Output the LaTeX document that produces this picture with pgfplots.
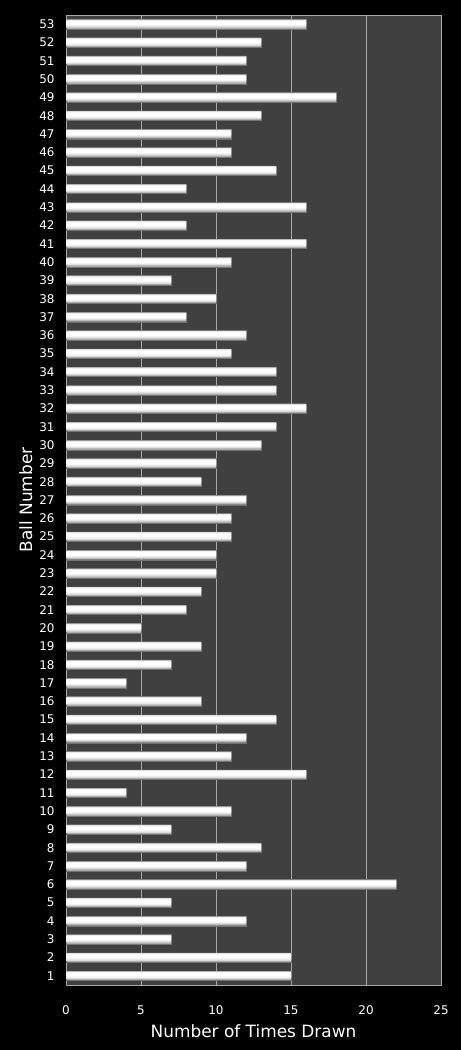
\documentclass[border=0pt]{standalone}
\usepackage{pgfplots}
\usepackage{pgfplotstable}
\pgfplotsset{compat=1.18}
\usepackage{fontspec}
\setmainfont{DejaVu Sans}
\definecolor{plotbg}{HTML}{404040}
\definecolor{gridc}{HTML}{A8A8A8}

\pgfplotstableread{
ball times
1 15
2 15
3 7
4 12
5 7
6 22
7 12
8 13
9 7
10 11
11 4
12 16
13 11
14 12
15 14
16 9
17 4
18 7
19 9
20 5
21 8
22 9
23 10
24 10
25 11
26 11
27 12
28 9
29 10
30 13
31 14
32 16
33 14
34 14
35 11
36 12
37 8
38 10
39 7
40 11
41 16
42 8
43 16
44 8
45 14
46 11
47 11
48 13
49 18
50 12
51 12
52 13
53 16
}\drawdata

\begin{document}
\begin{tikzpicture}
\path[use as bounding box, fill=black] (0,0) rectangle (461bp,1050bp);
\begin{axis}[
    at={(66bp,65bp)}, anchor=south west,
    scale only axis,
    width=375bp, height=970bp,
    xbar,
    xmin=0, xmax=25,
    ymin=0.5, ymax=53.5,
    xtick={0,5,10,15,20,25},
    ytick={1,...,53},
    axis background/.style={fill=plotbg},
    axis line style={gridc},
    xmajorgrids, grid style={gridc, line width=0.6bp},
    major tick length=0pt,
    tick label style={white, font=\fontsize{12}{14}\selectfont},
    xticklabel style={yshift=-17bp},
    yticklabel style={xshift=-8bp},
    xlabel={Number of Times Drawn},
    ylabel={Ball Number},
    label style={white, font=\fontsize{17}{20}\selectfont},
    xlabel style={yshift=-3bp},
    ylabel style={yshift=0bp},
    /pgf/number format/assume math mode=true,
]
% layered fills give the bevelled silver look of each bar
\addplot[draw=gray!90!black, line width=0.3bp, fill=gray!65, bar width=9.5bp, bar shift=0bp]
  table[x=times, y=ball] {\drawdata};
\addplot[draw=none, fill=gray!30, bar width=7.8bp, bar shift=0.5bp]
  table[x=times, y=ball] {\drawdata};
\addplot[draw=none, fill=gray!10, bar width=6bp, bar shift=0.8bp]
  table[x=times, y=ball] {\drawdata};
\addplot[draw=none, fill=white, bar width=4bp, bar shift=1.1bp]
  table[x=times, y=ball] {\drawdata};
\end{axis}
\end{tikzpicture}
\end{document}
